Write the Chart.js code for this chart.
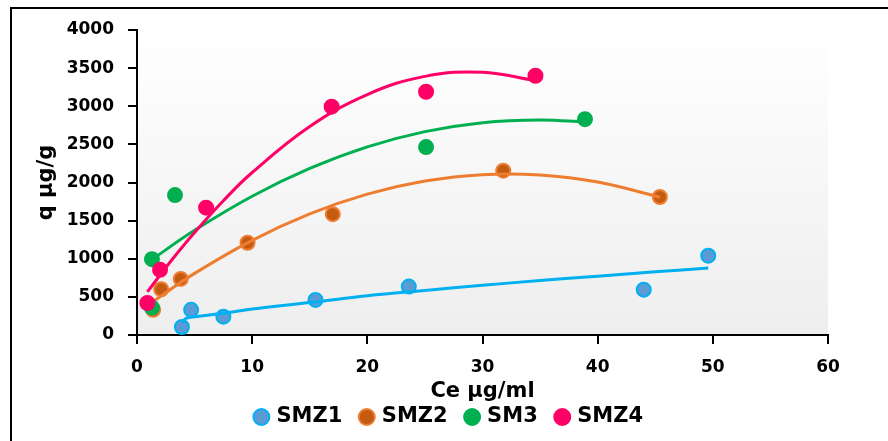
<!DOCTYPE html>
<html>
<head>
<meta charset="utf-8">
<script src="https://cdn.jsdelivr.net/npm/chart.js@4.4.1/dist/chart.umd.min.js"></script>
<style>
  html, body { margin: 0; padding: 0; background: #fff; }
  #wrap { width: 888px; height: 441px; }
</style>
</head>
<body>
<div id="wrap"><canvas id="chartCanvas" width="888" height="441"></canvas></div>
<script>
// measured points
const smz1X = [3.9, 4.7, 7.5, 15.5, 23.6, 44.0, 49.6];
const smz1Y = [105, 330, 240, 460, 635, 595, 1040];
const smz2X = [1.4, 2.1, 3.8, 9.6, 17.0, 31.8, 45.4];
const smz2Y = [330, 600, 735, 1210, 1585, 2155, 1810];
const sm3X = [1.3, 1.3, 3.3, 25.1, 38.9];
const sm3Y = [360, 995, 1835, 2465, 2830];
const smz4X = [0.9, 2.0, 6.0, 16.9, 25.1, 34.6];
const smz4Y = [420, 855, 1670, 2995, 3190, 3400];

// trend curves
const trend1X = [3.9, 4.3, 5, 7.5, 10, 15, 20, 25, 30, 35, 40, 45, 49.6];
const trend1Y = [165, 220, 240, 285, 340, 425, 515, 585, 652, 714, 772, 828, 880];
const trend2X = [1.35, 5, 10, 15, 20, 25, 30, 35, 40, 45.4];
const trend2Y = [435, 808, 1242, 1589, 1848, 2019, 2103, 2098, 2006, 1807];
const trend3X = [1.25, 5, 10, 15, 20, 25, 30, 35, 38.9];
const trend3Y = [985, 1373, 1820, 2184, 2467, 2667, 2785, 2821, 2793];
const trend4X = [0.9, 3, 5, 7.5, 10, 15, 20, 25, 30, 34.5];
const trend4Y = [565, 980, 1345, 1761, 2131, 2734, 3154, 3392, 3446, 3339];

const xTicks = [0, 10, 20, 30, 40, 50, 60];
const yTicks = [0, 500, 1000, 1500, 2000, 2500, 3000, 3500, 4000];

const pairs = (xs, ys) => xs.map((x, i) => ({ x: x, y: ys[i] }));

Chart.defaults.font.family = "'DejaVu Sans', sans-serif";
Chart.defaults.font.weight = "bold";
Chart.defaults.color = "#000";

const pointSet = (label, xs, ys, fill, stroke, order) => ({
  type: "scatter",
  label: label,
  data: pairs(xs, ys),
  backgroundColor: fill,
  borderColor: stroke,
  borderWidth: 2,
  pointRadius: 7,
  pointHoverRadius: 7,
  pointStyle: "circle",
  order: order,
});

const trendSet = (xs, ys, color, order) => ({
  type: "line",
  label: "",
  data: pairs(xs, ys),
  borderColor: color,
  borderWidth: 3,
  pointRadius: 0,
  fill: false,
  tension: 0.4,
  order: order,
});

// plot background + outer frame
const frame = {
  id: "frame",
  beforeDraw(chart) {
    const { ctx, chartArea: a } = chart;
    ctx.save();
    const g = ctx.createLinearGradient(0, a.top, 0, a.bottom);
    g.addColorStop(0, "#ffffff");
    g.addColorStop(1, "#eeeeee");
    ctx.fillStyle = g;
    ctx.fillRect(a.left, a.top, a.right - a.left, a.bottom - a.top);
    ctx.strokeStyle = "#000";
    ctx.lineWidth = 2;
    ctx.beginPath();
    ctx.moveTo(890, 8);
    ctx.lineTo(11, 8);
    ctx.lineTo(11, 443);
    ctx.stroke();
    ctx.restore();
  },
};

const axisGrid = {
  drawOnChartArea: false,
  drawTicks: true,
  tickLength: 9,
  color: "#000",
  lineWidth: 2,
};

const ctx = document.getElementById("chartCanvas").getContext("2d");
new Chart(ctx, {
  type: "scatter",
  data: {
    datasets: [
      pointSet("SMZ1", smz1X, smz1Y, "#5B9BD5", "#00B0F0", 8),
      trendSet(trend1X, trend1Y, "#00B0F0", 7),
      pointSet("SMZ2", smz2X, smz2Y, "#C55A11", "#ED7D31", 6),
      trendSet(trend2X, trend2Y, "#ED7D31", 5),
      pointSet("SM3", sm3X, sm3Y, "#00B050", "#00B050", 4),
      trendSet(trend3X, trend3Y, "#00B050", 3),
      pointSet("SMZ4", smz4X, smz4Y, "#FF0066", "#FF0066", 2),
      trendSet(trend4X, trend4Y, "#FF0066", 1),
    ],
  },
  options: {
    responsive: false,
    animation: false,
    layout: { padding: { left: 12, right: 0, top: 30, bottom: 3.5 } },
    plugins: {
      tooltip: { enabled: false },
      legend: {
        position: "bottom",
        labels: {
          usePointStyle: true,
          boxWidth: 9,
          boxHeight: 11.3,
          padding: 20,
          font: { size: 21, weight: "bold" },
          filter: (item) => item.text !== "",
          sort: (a, b) => a.datasetIndex - b.datasetIndex,
        },
      },
    },
    scales: {
      x: {
        type: "linear",
        min: 0,
        max: 60,
        afterBuildTicks: (scale) => {
          scale.ticks = xTicks.map((v) => ({ value: v }));
        },
        ticks: {
          padding: 13,
          font: { size: 17, weight: "bold" },
          callback: (v) => String(v),
        },
        grid: axisGrid,
        border: { display: true, color: "#000", width: 2 },
        title: {
          display: true,
          text: "Ce µg/ml",
          font: { size: 21, weight: "bold" },
          padding: { top: 0, bottom: -18.1 },
        },
        afterFit: (scale) => {
          scale.height = 51.5;
        },
      },
      y: {
        type: "linear",
        min: 0,
        max: 4000,
        afterBuildTicks: (scale) => {
          scale.ticks = yTicks.map((v) => ({ value: v }));
        },
        ticks: {
          padding: 14,
          font: { size: 17, weight: "bold" },
          callback: (v) => String(v),
        },
        grid: axisGrid,
        border: { display: true, color: "#000", width: 2 },
        title: {
          display: true,
          text: "q µg/g",
          font: { size: 21, weight: "bold" },
          padding: { top: 22.4, bottom: 0 },
        },
        afterFit: (scale) => {
          scale.width = 125;
        },
      },
      // empty right-hand space so the plot ends at x=60 like the original
      spacer: {
        type: "linear",
        position: "right",
        display: true,
        ticks: { display: false },
        grid: { display: false },
        border: { display: false },
        afterFit: (scale) => {
          scale.width = 60;
        },
      },
    },
  },
  plugins: [frame],
});
</script>
</body>
</html>
